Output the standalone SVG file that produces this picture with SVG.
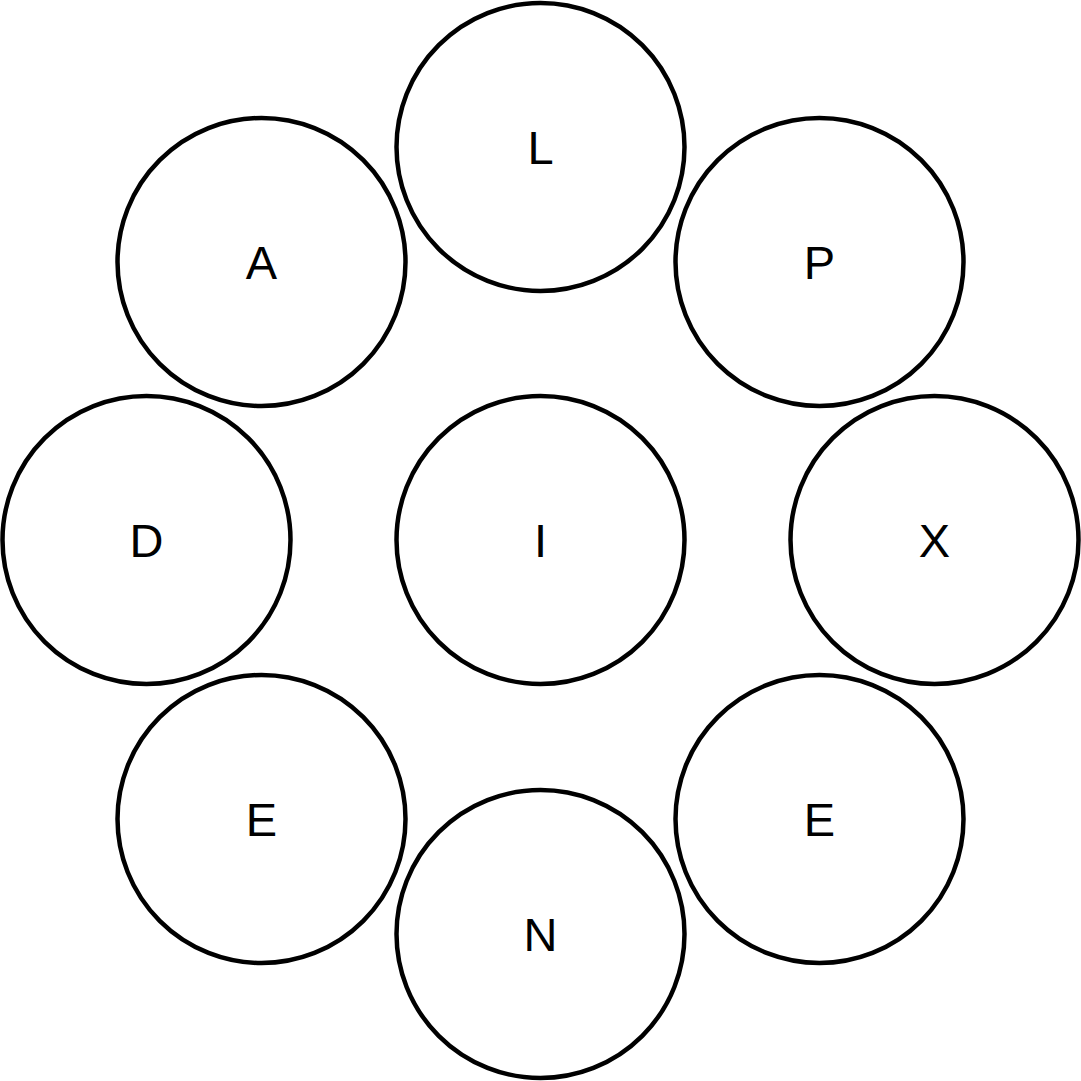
<svg xmlns="http://www.w3.org/2000/svg" width="1081" height="1081" viewBox="0 0 1081 1081">
<style>
.n circle{fill:#fff;stroke:#000;stroke-width:4.5}
.n text{font-family:"Liberation Sans",Arial,sans-serif;font-size:47px;text-anchor:middle;fill:#000}
</style>
<rect width="1081" height="1081" fill="#fff"/>
<g id="connectors"></g>
<g id="node-L" class="n"><circle cx="540.5" cy="147" r="144"/><text x="540.5" y="164">L</text></g>
<g id="node-A" class="n"><circle cx="261.5" cy="262" r="144"/><text x="261.5" y="279">A</text></g>
<g id="node-P" class="n"><circle cx="819.5" cy="262" r="144"/><text x="819.5" y="279">P</text></g>
<g id="node-D" class="n"><circle cx="146.5" cy="540" r="144"/><text x="146.5" y="557">D</text></g>
<g id="node-I" class="n"><circle cx="540.5" cy="540" r="144"/><text x="540.5" y="557">I</text></g>
<g id="node-X" class="n"><circle cx="934.5" cy="540" r="144"/><text x="934.5" y="557">X</text></g>
<g id="node-E1" class="n"><circle cx="261.5" cy="819" r="144"/><text x="261.5" y="836">E</text></g>
<g id="node-E2" class="n"><circle cx="819.5" cy="819" r="144"/><text x="819.5" y="836">E</text></g>
<g id="node-N" class="n"><circle cx="540.5" cy="934" r="144"/><text x="540.5" y="951">N</text></g>
</svg>
